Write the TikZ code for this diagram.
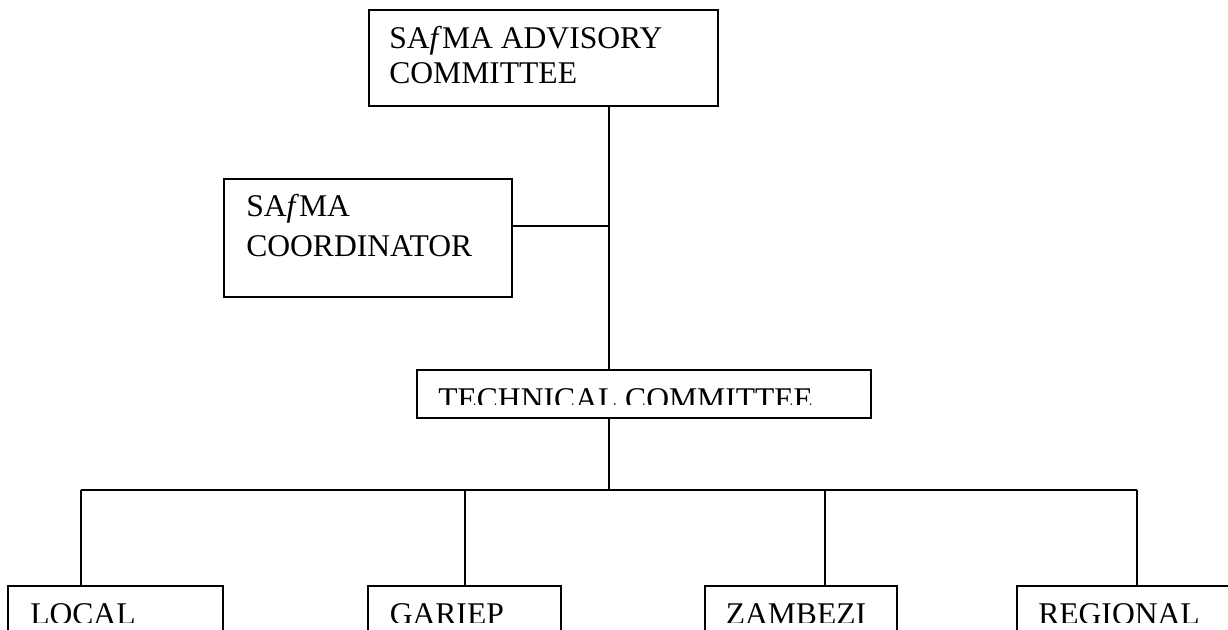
\documentclass[tikz,border=0pt]{standalone}
\usepackage{fontspec}
\setmainfont{Liberation Serif}
\usepackage{tikz}
\newcommand{\pxu}{0.75pt}
\tikzstyle{block} = [rectangle, draw=black, line width=1.8*\pxu, anchor=north west, inner sep=0pt, outer sep=0pt]
\tikzstyle{boxtext} = [anchor=base west, inner sep=0pt, align=left, font=\fontsize{23.7}{26.8}\selectfont]
\tikzstyle{wire} = [line width=1.8*\pxu]

\begin{document}
\begin{tikzpicture}[x=\pxu, y=-\pxu]
\clip (0,0) rectangle (1228,630);
% Boxes
\node (advisory) [block, minimum width=349*\pxu, minimum height=96*\pxu] at (369,10) {};
\node (coordinator) [block, minimum width=288*\pxu, minimum height=118*\pxu] at (224,179) {};
\node (technical) [block, minimum width=454*\pxu, minimum height=48*\pxu] at (417,370) {};
\node (local) [block, minimum width=215*\pxu, minimum height=80*\pxu] at (8,586) {};
\node (gariep) [block, minimum width=193*\pxu, minimum height=80*\pxu] at (368,586) {};
\node (zambezi) [block, minimum width=192*\pxu, minimum height=80*\pxu] at (705,586) {};
\node (regional) [block, minimum width=240*\pxu, minimum height=80*\pxu] at (1017,586) {};

% Texts (base = last line)
\node (advisorytext) [boxtext] at (389,84) {SA\textit{f}MA ADVISORY\\COMMITTEE};
\node (coordinatortext) [boxtext, font=\fontsize{23.7}{30.5}\selectfont] at (246,257) {SA\textit{f}MA\\COORDINATOR};
\begin{scope}
\clip (417,370) rectangle (871,405);
\node (technicaltext) [boxtext] at (438,410) {TECHNICAL COMMITTEE};
\end{scope}
\begin{scope}
\clip (0,586) rectangle (1228,622.5);
\node (localtext) [boxtext] at (30,624.5) {LOCAL};
\node (gariepttext) [boxtext] at (389.5,624.5) {GARIEP};
\node (zambezitext) [boxtext] at (725.5,624.5) {ZAMBEZI};
\node (regionaltext) [boxtext] at (1038,624.5) {REGIONAL};
\end{scope}

% Connectors
\coordinate (join) at (609,226);
\coordinate (bus) at (609,490);
\draw [wire] (advisory.south -| join) -- (technical.north -| join);
\draw [wire] (join -| coordinator.east) -- (join);
\draw [wire] (technical.south -| bus) -- (bus);
\draw [wire] (81,490) -- (1137,490);
\foreach \n/\x in {local/81, gariep/465, zambezi/825, regional/1137}{
  \coordinate (drop-\n) at (\x,490);
  \draw [wire] (drop-\n) -- (drop-\n |- \n.north);
}
\end{tikzpicture}
\end{document}
